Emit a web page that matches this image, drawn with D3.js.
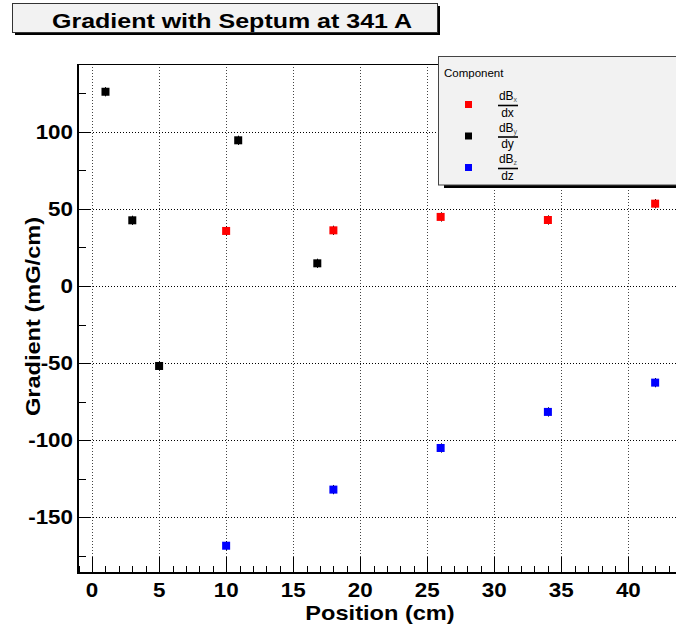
<!DOCTYPE html>
<html>
<head>
<meta charset="utf-8">
<script src="https://cdn.jsdelivr.net/npm/d3@7"></script>
<style>
  body { margin: 0; background: #fff; }
  text { font-family: "Liberation Sans", Arial, sans-serif; }
</style>
</head>
<body>
<div id="chart"></div>
<script>
var width = 676,
  height = 634;

// data
var blackX = [1, 3, 5, 10.9, 16.8];
var blackY = [126, 42.6, -51.9, 94.5, 14.7];
var blackErr = [3, 3, 3, 3, 3];
var redX = [10, 18, 26, 34, 42];
var redY = [35.7, 36.1, 44.8, 42.8, 53.4];
var redErr = [3, 3, 3, 3, 3];
var blueX = [10, 18, 26, 34, 42];
var blueY = [-168.5, -132.1, -105.1, -81.7, -62.7];
var blueErr = [3, 3, 3, 3, 3];

var xTicks = [0, 5, 10, 15, 20, 25, 30, 35, 40];
var yTicks = [-150, -100, -50, 0, 50, 100];
var legendNum = ["dB", "dB", "dB"];
var legendSub = ["x", "y", "z"];
var legendDen = ["dx", "dy", "dz"];
var legendColors = ["#ff0000", "#000000", "#0000ff"];

var series = [
  {x: redX, y: redY, e: redErr, color: "#ff0000"},
  {x: blackX, y: blackY, e: blackErr, color: "#000000"},
  {x: blueX, y: blueY, e: blueErr, color: "#0000ff"}
];

var svg = d3.select("#chart").append("svg")
  .attr("width", width)
  .attr("height", height);

var padL = 78, padR = 690, padT = 64, padB = 573;

var x = d3.scaleLinear().domain([-1.05, 44.6]).range([padL, padR]);
var y = d3.scaleLinear().domain([-186.2, 144]).range([padB, padT]);

// title box
svg.append("rect")
  .attr("x", 15).attr("y", 6).attr("width", 425).attr("height", 29)
  .attr("fill", "#000");
svg.append("rect")
  .attr("x", 12.5).attr("y", 3.5).attr("width", 425).attr("height", 29)
  .attr("fill", "#f2f2f2").attr("stroke", "#333").attr("stroke-width", 1);
svg.append("text")
  .attr("transform", "translate(232,28) scale(1.19,1)")
  .attr("text-anchor", "middle")
  .attr("font-size", 21).attr("font-weight", "bold")
  .text("Gradient with Septum at 341 A");

// grid
var g = svg.append("g");
g.selectAll(".vgrid")
  .data(xTicks)
  .enter().append("line")
    .attr("x1", function(d) { return Math.round(x(d)) + 0.5; })
    .attr("x2", function(d) { return Math.round(x(d)) + 0.5; })
    .attr("y1", padT).attr("y2", padB)
    .attr("stroke", "#444").attr("stroke-dasharray", "1,2");
g.selectAll(".hgrid")
  .data(yTicks)
  .enter().append("line")
    .attr("y1", function(d) { return Math.round(y(d)) + 0.5; })
    .attr("y2", function(d) { return Math.round(y(d)) + 0.5; })
    .attr("x1", padL).attr("x2", padR)
    .attr("stroke", "#000").attr("stroke-dasharray", "1,2");

// axes ticks
var yMinor = d3.range(-175, 144, 25).filter(function(d) { return d % 50 !== 0; });
var xMinor = d3.range(-1, 45, 1).filter(function(d) { return d % 5 !== 0; });

g.selectAll(".ytick")
  .data(yTicks)
  .enter().append("line")
    .attr("x1", padL).attr("x2", padL + 13)
    .attr("y1", function(d) { return Math.round(y(d)) + 0.5; })
    .attr("y2", function(d) { return Math.round(y(d)) + 0.5; })
    .attr("stroke", "#000");
g.selectAll(".yminor")
  .data(yMinor)
  .enter().append("line")
    .attr("x1", padL).attr("x2", padL + 8)
    .attr("y1", function(d) { return Math.round(y(d)) + 0.5; })
    .attr("y2", function(d) { return Math.round(y(d)) + 0.5; })
    .attr("stroke", "#000");
g.selectAll(".xtick")
  .data(xTicks)
  .enter().append("line")
    .attr("x1", function(d) { return Math.round(x(d)) + 0.5; })
    .attr("x2", function(d) { return Math.round(x(d)) + 0.5; })
    .attr("y1", padB).attr("y2", padB - 16)
    .attr("stroke", "#000");
g.selectAll(".xminor")
  .data(xMinor)
  .enter().append("line")
    .attr("x1", function(d) { return Math.round(x(d)) + 0.5; })
    .attr("x2", function(d) { return Math.round(x(d)) + 0.5; })
    .attr("y1", padB).attr("y2", padB - 7)
    .attr("stroke", "#000");

// frame
svg.append("line").attr("x1", padL).attr("x2", padR)
  .attr("y1", padT + 0.5).attr("y2", padT + 0.5).attr("stroke", "#000");
svg.append("line").attr("x1", padL).attr("x2", padL)
  .attr("y1", padT).attr("y2", padB + 1).attr("stroke", "#000").attr("stroke-width", 2);
svg.append("line").attr("x1", padL - 1).attr("x2", padR)
  .attr("y1", padB).attr("y2", padB).attr("stroke", "#000").attr("stroke-width", 2);

// tick labels
svg.selectAll(".ylab")
  .data(yTicks)
  .enter().append("text")
    .attr("transform", function(d) { return "translate(73," + (y(d) + 7) + ") scale(1.12,1)"; })
    .attr("text-anchor", "end")
    .attr("font-size", 20).attr("font-weight", "bold")
    .text(function(d) { return d; });
svg.selectAll(".xlab")
  .data(xTicks)
  .enter().append("text")
    .attr("transform", function(d) { return "translate(" + x(d) + ",597) scale(1.12,1)"; })
    .attr("text-anchor", "middle")
    .attr("font-size", 20).attr("font-weight", "bold")
    .text(function(d) { return d; });

// axis titles
svg.append("text")
  .attr("transform", "translate(380,620) scale(1.18,1)")
  .attr("text-anchor", "middle")
  .attr("font-size", 20).attr("font-weight", "bold")
  .text("Position (cm)");
svg.append("text")
  .attr("transform", "translate(40,316.5) rotate(-90) scale(1.18,1)")
  .attr("text-anchor", "middle")
  .attr("font-size", 20).attr("font-weight", "bold")
  .text("Gradient (mG/cm)");

// points with error bars
series.forEach(function(s) {
  var pts = s.x.map(function(d, i) { return {x: d, y: s.y[i], e: s.e[i]}; });
  var pg = svg.append("g");
  pg.selectAll(".err")
    .data(pts)
    .enter().append("line")
      .attr("x1", function(d) { return Math.round(x(d.x)) + 0.5; })
      .attr("x2", function(d) { return Math.round(x(d.x)) + 0.5; })
      .attr("y1", function(d) { return y(d.y + d.e); })
      .attr("y2", function(d) { return y(d.y - d.e); })
      .attr("stroke", "#000");
  pg.selectAll(".pt")
    .data(pts)
    .enter().append("rect")
      .attr("x", function(d) { return x(d.x) - 4; })
      .attr("y", function(d) { return y(d.y) - 4; })
      .attr("width", 8).attr("height", 8)
      .attr("fill", s.color);
});

// legend
var lg = svg.append("g");
lg.append("rect")
  .attr("x", 444).attr("y", 60).attr("width", 260).attr("height", 128)
  .attr("fill", "#000");
lg.append("rect")
  .attr("x", 438.5).attr("y", 56.5).attr("width", 260).attr("height", 128.5)
  .attr("fill", "#f2f2f2").attr("stroke", "#444");
lg.append("text")
  .attr("x", 444).attr("y", 76.5)
  .attr("font-size", 11.5)
  .text("Component");

legendNum.forEach(function(n, i) {
  var by = 105.5 + i * 31.5;
  lg.append("rect")
    .attr("x", 465).attr("y", by - 4.5).attr("width", 7).attr("height", 7)
    .attr("fill", legendColors[i]);
  var t = lg.append("text")
    .attr("x", 508).attr("y", by - 5.5)
    .attr("text-anchor", "middle")
    .attr("font-size", 12);
  t.append("tspan").text(n);
  t.append("tspan").attr("font-size", 7).attr("dy", 2).attr("fill", "#555").text(legendSub[i]);
  lg.append("line")
    .attr("x1", 498).attr("x2", 518)
    .attr("y1", by).attr("y2", by)
    .attr("stroke", "#000").attr("stroke-width", 1.6);
  lg.append("text")
    .attr("x", 507.5).attr("y", by + 11)
    .attr("text-anchor", "middle")
    .attr("font-size", 12)
    .text(legendDen[i]);
});
</script>
</body>
</html>
